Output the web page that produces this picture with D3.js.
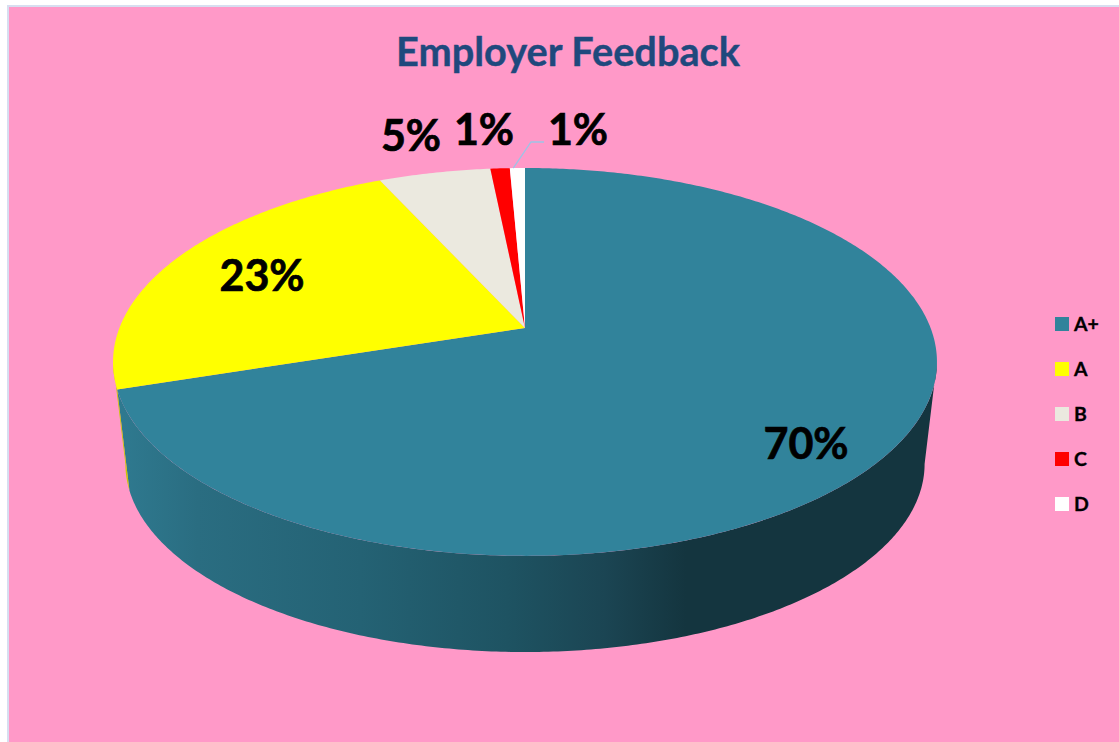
<!DOCTYPE html>
<html>
<head>
<meta charset="utf-8">
<script src="https://cdn.jsdelivr.net/npm/d3@7"></script>
<style>
	html, body { margin: 0; padding: 0; background: #fff; overflow: hidden; }
	svg { display: block; }
	text { font-family: Lato, "Open Sans", sans-serif; font-weight: 700; }
</style>
</head>
<body>
<svg></svg>
<script>
const title = 'Employer Feedback';
const grades = ['A+', 'A', 'B', 'C', 'D'];
// slightly off the printed percentages, the slices are drawn a bit uneven
const shares = [70, 23.2, 5.2, 0.9, 0.7];
const colours = ['#31839b', '#ffff00', '#ebe9df', '#ff0000', '#ffffff'];
const wallColours = ['#26667a', '#c9c900', '#b8b6ad', '#b00000', '#cccccc'];

const width = 1119;
const height = 742;

const svg = d3.select('svg')
	.attr('width', width)
	.attr('height', height);

const defs = svg.append('defs');
const wallGradient = defs.append('linearGradient')
	.attr('id', 'wall')
	.attr('gradientUnits', 'userSpaceOnUse')
	.attr('x1', 117).attr('x2', 930)
	.attr('y1', 0).attr('y2', 0);
[[0, '#2f7a90'], [0.1, '#2a6d81'], [0.3, '#246274'], [0.48, '#1e5362'], [0.6, '#1b4553'], [0.7, '#14353f'], [1, '#14353f']]
	.forEach(s => wallGradient.append('stop').attr('offset', s[0]).attr('stop-color', s[1]));

// page frame
svg.append('rect')
	.attr('x', 8).attr('y', 6)
	.attr('width', width).attr('height', height)
	.attr('fill', '#ff99c8')
	.attr('stroke', '#d7def0')
	.attr('stroke-width', 2);

svg.append('text')
	.attr('x', 568).attr('y', 66)
	.attr('text-anchor', 'middle')
	.attr('font-size', 39.7)
	.attr('fill', '#1f497d')
	.attr('stroke', '#1f497d')
	.attr('stroke-width', 0.4)
	.text(title);

// tilted disc: a circle seen in perspective, so the near half is larger
const apexX = 525;
const apexY = 328;
const radiusX = 405.6;
const radiusY = 188;
const tilt = 0.175;
const depthDrop = 103;
const depthScale = 0.97;

function project(angle, level) {
	const s = Math.sin(angle);
	const c = Math.cos(angle);
	const w = 1 + tilt * c;
	const f = level ? depthScale : 1;
	return [apexX + f * radiusX * s / w, apexY + (level ? depthDrop : 0) - f * radiusY * c / w];
}

function arcPoints(a0, a1, level) {
	const n = Math.max(2, Math.ceil(Math.abs(a1 - a0) / 0.01));
	return d3.range(n + 1).map(i => project(a0 + (a1 - a0) * i / n, level));
}

const slices = d3.pie().sort(null).value(d => d)(shares);
const line = d3.line();

// wall is only seen between the two side extremes of the disc
const wallFrom = Math.acos(-tilt);
const wallTo = 2 * Math.PI - wallFrom;

const wallGroup = svg.append('g');
slices.forEach((d, i) => {
	const a0 = Math.max(d.startAngle, wallFrom);
	const a1 = Math.min(d.endAngle, wallTo);
	if (a1 <= a0) return;
	const pts = arcPoints(a0, a1, 0).concat(arcPoints(a1, a0, 1));
	wallGroup.append('path')
		.attr('d', line(pts) + 'Z')
		.attr('fill', i === 0 ? 'url(#wall)' : wallColours[i]);
});

svg.append('g')
	.selectAll('path')
	.data(slices)
	.enter().append('path')
		.attr('d', d => line([[apexX, apexY]].concat(arcPoints(d.startAngle, d.endAngle, 0))) + 'Z')
		.attr('fill', (d, i) => colours[i]);

// leader line for the D label
const leaderEnd = project((slices[4].startAngle + slices[4].endAngle) / 2 - 0.012, 0);
svg.append('path')
	.attr('d', line([leaderEnd, [531, 142], [544, 142]]))
	.attr('fill', 'none')
	.attr('stroke', '#9dc3e6')
	.attr('stroke-width', 1.3);

const labelCentres = [[806, 444], [262, 276], [411, 136], [484, 130], [578, 130]];
const percent = d3.format('.0%');
svg.append('g')
	.selectAll('text')
	.data(slices)
	.enter().append('text')
		.attr('x', (d, i) => labelCentres[i][0])
		.attr('y', (d, i) => labelCentres[i][1])
		.attr('dy', '0.36em')
		.attr('text-anchor', 'middle')
		.attr('font-size', 43)
		.attr('fill', '#000')
		.attr('stroke', '#000')
		.attr('stroke-width', 0.7)
		.text(d => percent(d.value / 100));

const legendY = d3.scalePoint().domain(grades).range([324, 504]);
const legend = svg.append('g')
	.selectAll('g')
	.data(grades)
	.enter().append('g')
		.attr('transform', d => `translate(1055,${legendY(d)})`);
legend.append('rect')
	.attr('y', -7)
	.attr('width', 14).attr('height', 14)
	.attr('fill', (d, i) => colours[i]);
legend.append('text')
	.attr('x', 19)
	.attr('dy', '0.36em')
	.attr('font-size', 19.5)
	.attr('fill', '#000')
	.attr('stroke', '#000')
	.attr('stroke-width', 0.3)
	.text(d => d);
</script>
</body>
</html>
